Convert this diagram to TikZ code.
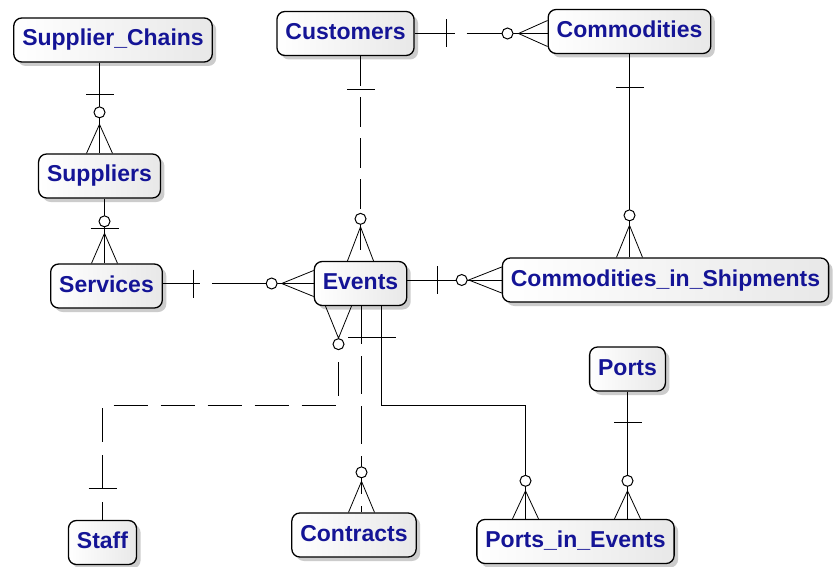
\documentclass[tikz,border=0pt]{standalone}
\usepackage{fontspec}
\setmainfont{Liberation Sans}
\usetikzlibrary{shadows}
\definecolor{entblue}{RGB}{20,20,150}

\begin{document}
\begin{tikzpicture}
[
	x=1pt, y=-1pt,
	entity/.style={draw=black, line width=1.3pt, rounded corners=8pt,
		left color=white, right color=gray!18,
		drop shadow={shadow xshift=4pt, shadow yshift=-4pt, opacity=0.4, fill=gray},
		text=entblue, font=\bfseries\fontsize{23}{23}\selectfont,
		inner xsep=8.5pt, minimum height=44pt, text height=17pt, text depth=5pt},
	rel/.style={line width=1pt},
	optrel/.style={rel, dash pattern=on 30pt off 11pt},
	pics/onebar/.style={code={\draw[rel] (#1,-14) -- (#1,14);}},
	pics/zeromany/.style 2 args={code={
		\draw[line width=0.8pt] (0,-13) -- (#1,0) -- (0,13);
		\draw[rel, fill=white] (#2,0) circle (5.5pt);}}
]

	\path[use as bounding box, fill=white] (0,0) rectangle (833,567);

	% entities
	\node[entity] (chains) at (113,40) {Supplier\_Chains};
	\node[entity] (cust) at (345.5,33.5) {Customers};
	\node[entity] (comm) at (629.5,31.5) {Commodities};
	\node[entity] (supp) at (99.5,176) {Suppliers};
	\node[entity] (serv) at (106.5,286) {Services};
	\node[entity] (events) at (360.5,283.5) {Events};
	\node[entity] (cship) at (665.5,280) {Commodities\_in\_Shipments};
	\node[entity] (ports) at (627.5,369) {Ports};
	\node[entity] (staff) at (102.5,542.5) {Staff};
	\node[entity] (contr) at (354,535) {Contracts};
	\node[entity] (pevents) at (575.5,541.5) {Ports\_in\_Events};

	% chains - suppliers
	\draw[rel] (chains.south -| supp.north) -- (supp.north);
	\pic[rotate=-90] at (chains.south -| supp.north) {onebar=32};
	\pic[rotate=90] at (supp.north) {zeromany={29}{41}};

	% suppliers - services
	\coordinate (sv1) at ([xshift=-2pt]serv.north);
	\draw[rel] (sv1 |- supp.south) -- (sv1);
	\pic[rotate=90] at (sv1) {onebar=35};
	\pic[rotate=90] at (sv1) {zeromany={30}{42}};

	% services - events
	\draw[rel, dash pattern=on 37pt off 12pt on 200pt off 12pt] (events.west -| serv.east) -- (events.west);
	\pic at (events.west -| serv.east) {onebar=31};
	\pic[rotate=180] at (events.west) {zeromany={32}{42}};

	% customers - commodities
	\draw[rel, dash pattern=on 40pt off 12pt on 200pt off 12pt] (cust.east) -- (cust.east -| comm.west);
	\pic at (cust.east) {onebar=32};
	\pic[rotate=180] at (cust.east -| comm.west) {zeromany={29}{40}};

	% customers - events
	\draw[optrel] (events.north |- cust.south) -- (events.north);
	\pic[rotate=-90] at (events.north |- cust.south) {onebar=33};
	\pic[rotate=90] at (events.north) {zeromany={34}{42}};

	% commodities - shipments
	\draw[rel] (comm.south) -- (comm.south |- cship.north);
	\pic[rotate=-90] at (comm.south) {onebar=33};
	\pic[rotate=90] at (comm.south |- cship.north) {zeromany={32}{42}};

	% events - shipments
	\draw[rel] (events.east |- cship.west) -- (cship.west);
	\pic at (events.east |- cship.west) {onebar=30};
	\pic[rotate=180] at (cship.west) {zeromany={33}{40}};

	% ports - ports in events
	\draw[rel] (ports.south) -- (ports.south |- pevents.north);
	\pic[rotate=-90] at (ports.south) {onebar=31};
	\pic[rotate=90] at (ports.south |- pevents.north) {zeromany={28}{38}};

	% events - staff
	\coordinate (st1) at ([xshift=-22pt]events.south);
	\coordinate (st2) at ([xshift=-22pt,yshift=-44pt]events.south);
	\draw[rel, dash pattern=on 34pt off 13pt, dash phase=16pt] (staff.north) -- ++(0,-114) -| (st2);
	\pic[rotate=90] at (staff.north) {onebar=31};
	\pic[rotate=-90] at (st1) {zeromany={32}{38}};

	% events - contracts
	\coordinate (ct1) at ([xshift=1pt]events.south);
	\draw[rel, dash pattern=on 38pt off 12pt] (ct1) -- (ct1 |- contr.north);
	\pic[rotate=-90] at (ct1) {onebar=31};
	\pic[rotate=90] at (ct1 |- contr.north) {zeromany={31}{40}};

	% events - ports in events
	\coordinate (pe1) at ([xshift=21pt]events.south);
	\coordinate (pe2) at ([xshift=-50pt]pevents.north);
	\draw[rel] (pe1) -- ++(0,99) -| (pe2);
	\pic[rotate=-90] at (pe1) {onebar=31};
	\pic[rotate=90] at (pe2) {zeromany={28}{38}};

\end{tikzpicture}
\end{document}
